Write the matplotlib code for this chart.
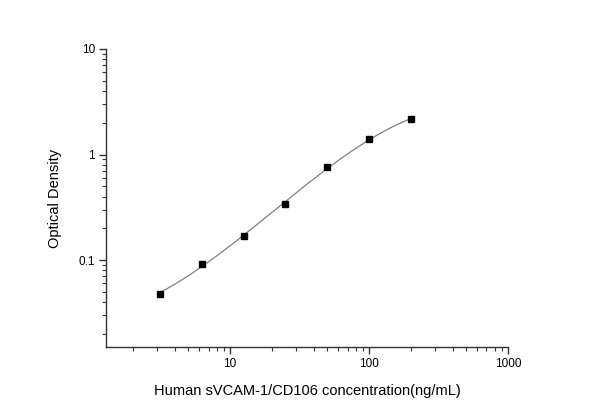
import numpy as np
import matplotlib.pyplot as plt
from matplotlib.ticker import LogLocator, FixedLocator, FixedFormatter, NullFormatter

plt.rcParams['font.family'] = ['Liberation Sans', 'DejaVu Sans']

# standard curve data
conc = [3.125, 6.25, 12.5, 25, 50, 100, 200]
od = [0.048, 0.092, 0.169, 0.337, 0.764, 1.40, 2.16]
x_ticks = [10, 100, 1000]
x_tick_labels = ['10', '100', '1000']
y_ticks = [0.1, 1, 10]
y_tick_labels = ['0.1', '1', '10']

# smooth fitted curve through the points (cubic in log-log space)
lx = np.log10(conc)
ly = np.log10(od)
coef = np.polyfit(lx, ly, 3)
fit_x = np.linspace(lx[0], lx[-1], 200)
fit_y = np.polyval(coef, fit_x)

fig = plt.figure(figsize=(5.9, 4.17), dpi=100)
ax = fig.add_axes([0.1797, 0.1679, 0.6813, 0.7146])

ax.plot(10 ** fit_x, 10 ** fit_y, color='#808080', lw=0.9, zorder=2)
ax.plot(conc, od, 's', color='black', ms=5, zorder=3)

ax.set_xscale('log')
ax.set_yscale('log')
ax.set_xlim(1.28, 1000)
ax.set_ylim(0.015, 10)

ax.xaxis.set_major_locator(FixedLocator(x_ticks))
ax.xaxis.set_major_formatter(FixedFormatter(x_tick_labels))
ax.yaxis.set_major_locator(FixedLocator(y_ticks))
ax.yaxis.set_major_formatter(FixedFormatter(y_tick_labels))
ax.xaxis.set_minor_locator(LogLocator(base=10, subs=np.arange(2, 10)))
ax.yaxis.set_minor_locator(LogLocator(base=10, subs=np.arange(2, 10)))
ax.xaxis.set_minor_formatter(NullFormatter())
ax.yaxis.set_minor_formatter(NullFormatter())

for s in ['top', 'right']:
    ax.spines[s].set_visible(False)
for s in ['left', 'bottom']:
    ax.spines[s].set_linewidth(1.0)
    ax.spines[s].set_color('#333333')

ax.tick_params(which='major', direction='out', length=5, width=1.0,
               color='#333333', labelsize=8.5, pad=3)
ax.tick_params(which='minor', direction='out', length=3, width=0.8,
               color='#333333')

ax.set_xlabel('Human sVCAM-1/CD106 concentration(ng/mL)', fontsize=10.5, labelpad=10)
ax.set_ylabel('Optical Density', fontsize=10.5, labelpad=12)

fig.savefig('out.png', dpi=100)
